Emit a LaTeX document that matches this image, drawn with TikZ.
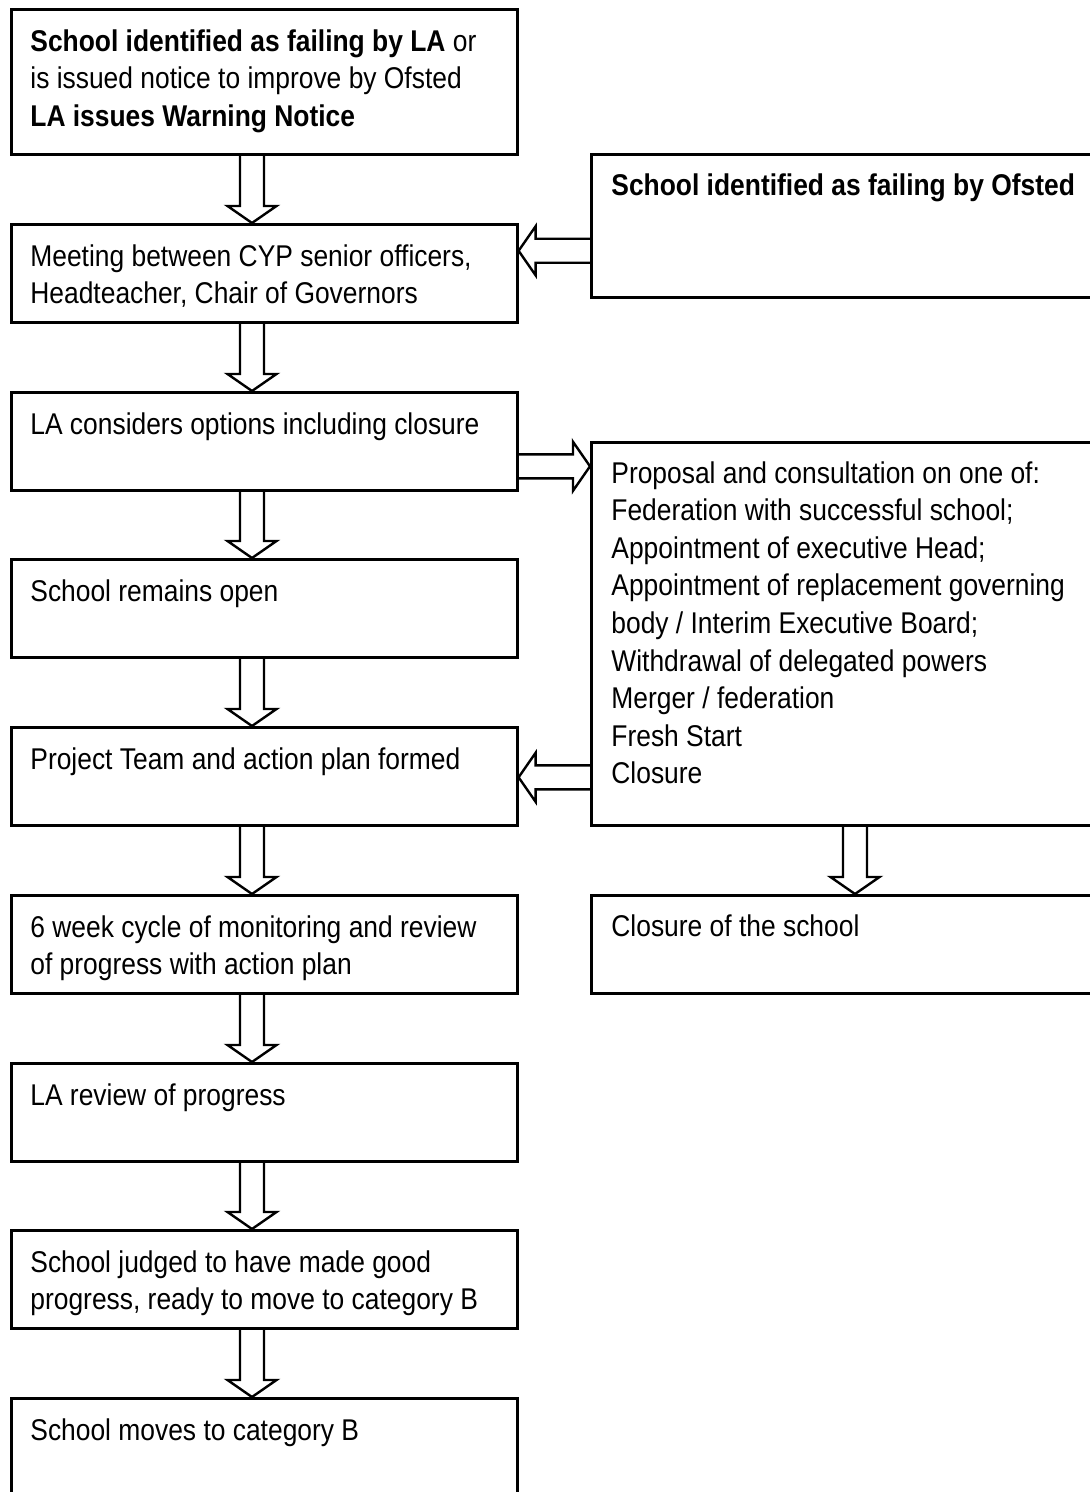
\documentclass[tikz,border=0pt]{standalone}
\usepackage{fontspec}
\setmainfont{Liberation Sans}[FakeStretch=0.88]
\usetikzlibrary{calc}

\begin{document}
\begin{tikzpicture}[x=0.5pt,y=-0.5pt]
  \tikzstyle{blk}=[draw,rectangle,line width=1.3pt,anchor=north west,minimum width=253pt,inner sep=0pt]
  \tikzstyle{rblk}=[blk,minimum width=260pt]
  \tikzstyle{txt}=[anchor=north west,align=left,inner sep=0pt,font=\fontsize{15pt}{18.8pt}\selectfont]
  \tikzstyle{fat}=[line width=1.2pt,line join=miter,
    to path={let \p1=(\tikztostart), \p2=(\tikztotarget), \n1={atan2(\y2-\y1,\x2-\x1)} in
      ($(\p1)+(\n1+90:6pt)$) -- ($(\p2)+(\n1+180:8.5pt)+(\n1+90:6pt)$)
      -- ($(\p2)+(\n1+180:8.5pt)+(\n1+90:12.25pt)$) -- (\p2)
      -- ($(\p2)+(\n1+180:8.5pt)+(\n1-90:12.25pt)$) -- ($(\p2)+(\n1+180:8.5pt)+(\n1-90:6pt)$)
      -- ($(\p1)+(\n1-90:6pt)$)}]

  \useasboundingbox (0,0) rectangle (1089,1492);

  % Left column
  \node[blk,minimum height=72.5pt] (b1) at (10,8) {};
  \node[txt] (t1) at ($(b1.north west)+(20,21)$) {\textbf{School identified as failing by LA} or\\is issued notice to improve by Ofsted\\\textbf{LA issues Warning Notice}};

  \node[blk,minimum height=49pt] (b2) at (10,223) {};
  \node[txt] (t2) at ($(b2.north west)+(20,21)$) {Meeting between CYP senior officers,\\Headteacher, Chair of Governors};

  \node[blk,minimum height=49pt] (b3) at (10,391) {};
  \node[txt] (t3) at ($(b3.north west)+(20,21)$) {LA considers options including closure};

  \node[blk,minimum height=49pt] (b4) at (10,558) {};
  \node[txt] (t4) at ($(b4.north west)+(20,21)$) {School remains open};

  \node[blk,minimum height=49pt] (b5) at (10,726) {};
  \node[txt] (t5) at ($(b5.north west)+(20,21)$) {Project Team and action plan formed};

  \node[blk,minimum height=49pt] (b6) at (10,894) {};
  \node[txt] (t6) at ($(b6.north west)+(20,21)$) {6 week cycle of monitoring and review\\of progress with action plan};

  \node[blk,minimum height=49pt] (b7) at (10,1062) {};
  \node[txt] (t7) at ($(b7.north west)+(20,21)$) {LA review of progress};

  \node[blk,minimum height=49pt] (b8) at (10,1229) {};
  \node[txt] (t8) at ($(b8.north west)+(20,21)$) {School judged to have made good\\progress, ready to move to category B};

  \node[blk,minimum height=52pt] (b9) at (10,1397) {};
  \node[txt] (t9) at ($(b9.north west)+(20,21)$) {School moves to category B};

  % Right column
  \node[rblk,minimum height=71.5pt] (r1) at (590,153) {};
  \node[txt] (rt1) at ($(r1.north west)+(21,20)$) {\textbf{School identified as failing by Ofsted}};

  \node[rblk,minimum height=191.5pt] (r2) at (590,441) {};
  \node[txt] (rt2) at ($(r2.north west)+(21,20)$) {Proposal and consultation on one of:\\Federation with successful school;\\Appointment of executive Head;\\Appointment of replacement governing\\body / Interim Executive Board;\\Withdrawal of delegated powers\\Merger / federation\\Fresh Start\\Closure};

  \node[rblk,minimum height=49pt] (r3) at (590,894) {};
  \node[txt] (rt3) at ($(r3.north west)+(21,20)$) {Closure of the school};

  % Arrows down
  \foreach \a/\b in {b1/b2,b2/b3,b3/b4,b4/b5,b5/b6,b6/b7,b7/b8,b8/b9}
    \draw[fat] ($(\a.south west)+(242,0)$) to ($(\b.north west)+(242,0)$);
  \draw[fat] ($(r2.south west)+(265,0)$) to ($(r3.north west)+(265,0)$);

  % Arrows across
  \coordinate (c1) at ($(r1.west)+(0,25)$);
  \draw[fat] (c1) to (b2.east |- c1);
  \coordinate (c3) at ($(b3.east)+(0,25)$);
  \draw[fat] (c3) to (r2.west |- c3);
  \coordinate (c5) at ($(r2.west |- b5.east)+(0,1)$);
  \draw[fat] (c5) to (b5.east |- c5);
\end{tikzpicture}
\end{document}
